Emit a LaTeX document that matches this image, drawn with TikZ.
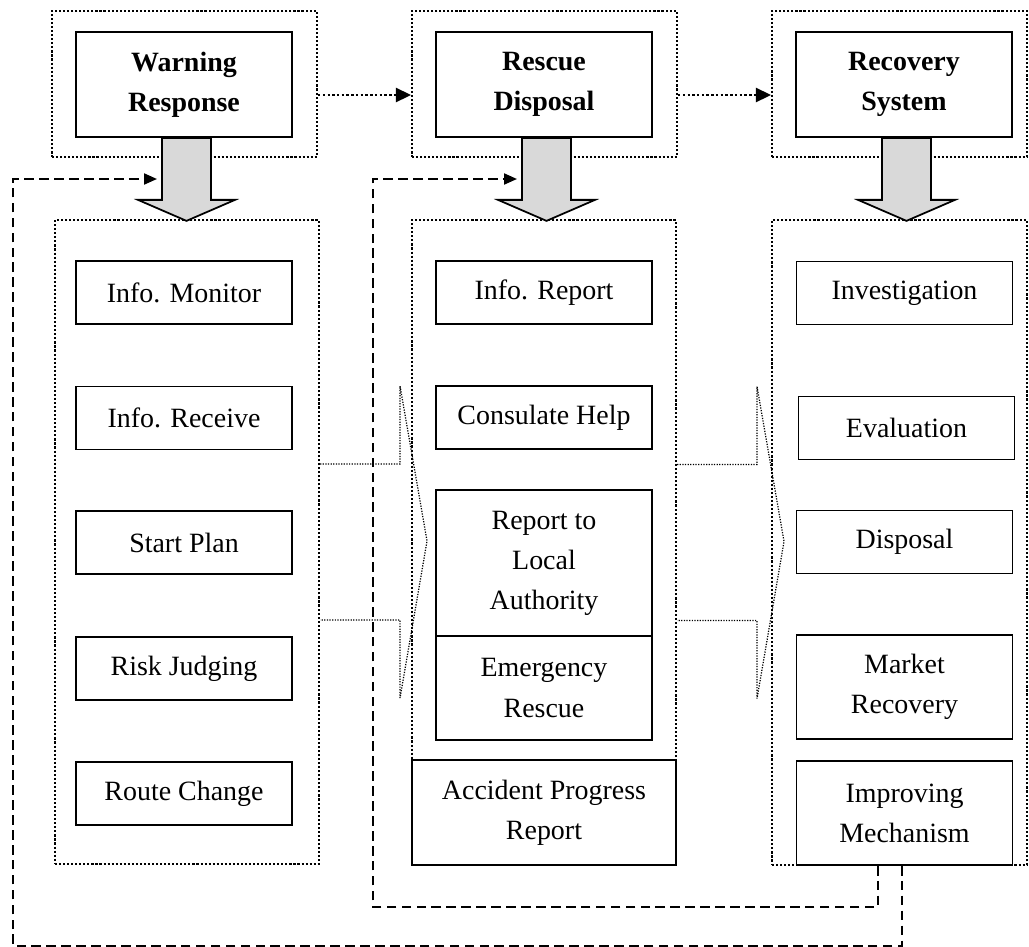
\documentclass[tikz,border=0pt]{standalone}
\usepackage{fontspec}
\setmainfont{Liberation Serif}
\usetikzlibrary{arrows.meta}
\definecolor{arrowgrey}{RGB}{217,217,217}

\begin{document}
\begin{tikzpicture}
            [x=0.02cm,y=-0.02cm,
             every node/.style={draw,line width=1pt,fill=white,align=center,inner sep=0pt,
               font=\fontsize{15.9}{22.8}\selectfont},
             head/.style={minimum width=4.32cm,minimum height=2.1cm,
               font=\fontsize{15.9}{22.8}\selectfont\bfseries},
             item/.style={minimum width=4.32cm,minimum height=1.26cm},
             tallitem/.style={minimum width=4.32cm,minimum height=2.08cm},
             frame/.style={fill=none,line width=1.2pt,dash pattern=on 1.2pt off 1.1pt},
             linkarrow/.style={line width=1.4pt,dash pattern=on 1.4pt off 1.3pt,
               -{Triangle[length=0.3cm,width=0.28cm]}},
             bigarrow/.style={line width=1pt,fill=arrowgrey},
             fatlink/.style={line width=0.7pt,dash pattern=on 0.7pt off 0.8pt},
             feedback/.style={line width=1.2pt,dash pattern=on 5.5pt off 3pt,
               -{Triangle[length=0.26cm,width=0.22cm]}}]
            \useasboundingbox (0,0) rectangle (1029,947);
            % dotted frames
            \node[frame,minimum width=5.3cm,minimum height=2.92cm] (topWR) at (184.5,84) {};
            \node[frame,minimum width=5.3cm,minimum height=2.92cm] (topRD) at (544.5,84) {};
            \node[frame,minimum width=5.1cm,minimum height=2.92cm] (topRS) at (899.5,84) {};
            \node[frame,minimum width=5.28cm,minimum height=12.88cm] (colWR) at (187,542) {};
            \node[frame,minimum width=5.28cm,minimum height=12.9cm] (colRD) at (544,542.5) {};
            \node[frame,minimum width=5.1cm,minimum height=12.9cm] (colRS) at (899.5,542.5) {};
            % stage heads
            \node[head] (hWR) at (184,84.5) {Warning\\Response};
            \node[head] (hRD) at (544,84.5) {Rescue\\Disposal};
            \node[head] (hRS) at (904,84.5) {Recovery\\System};
            % warning response
            \node[item] (monitor) at (184,292.5) {Info. Monitor};
            \node[item] (receive) at (184,418) {Info. Receive};
            \node[item] (plan) at (184,542.5) {Start Plan};
            \node[item] (risk) at (184,668.5) {Risk Judging};
            \node[item] (route) at (184,793.5) {Route Change};
            % rescue disposal
            \node[item] (report) at (544,292.5) {Info. Report};
            \node[item] (consulate) at (544,417.5) {Consulate Help};
            \node[item,minimum height=2.92cm] (local) at (544,563) {Report to\\Local\\Authority};
            \node[tallitem] (emergency) at (544,688) {Emergency\\Rescue};
            \node[minimum width=5.28cm,minimum height=2.1cm] (progress) at (544,812.5) {Accident Progress\\Report};
            % recovery system
            \node[item] (investigation) at (904.5,293) {Investigation};
            \node[item] (evaluation) at (906.5,428) {Evaluation};
            \node[item] (disposal) at (904.5,542) {Disposal};
            \node[tallitem] (market) at (904.5,687) {Market\\Recovery};
            \node[tallitem] (imp) at (904.5,813) {Improving\\Mechanism};
            % stage order
            \draw[linkarrow] ([yshift=-0.22cm]topWR.east) -- ([yshift=-0.22cm]topRD.west);
            \draw[linkarrow] ([yshift=-0.22cm]topRD.east) -- ([yshift=-0.22cm]topRS.west);
            % grey arrows
            \foreach \h in {hWR,hRD,hRS}
              \draw[bigarrow] ([xshift=-0.44cm]\h.south) -- ++(0,62) -- ++(-24,0) -- ++(48.5,21)
                -- ++(48.5,-21) -- ++(-24,0) -- ++(0,-62) -- cycle;
            % thin arrows between columns
            \foreach \c in {colWR,colRD}
              \draw[fatlink] ([yshift=1.56cm]\c.east) -- ++(80,0) -- ++(0,-78) -- ++(27,155)
                -- ++(-27,157) -- ++(0,-78) -- ++(-80,0);
            % feedback
            \coordinate (inWR) at (157,179);
            \coordinate (inRD) at (517,179);
            \draw[feedback] ([xshift=-0.53cm]imp.south) -- ++(0,41) -| (373,179) -- (inRD);
            \draw[feedback] ([xshift=-0.05cm]imp.south) -- ++(0,80) -| (13,179) -- (inWR);
        \end{tikzpicture}
\end{document}
